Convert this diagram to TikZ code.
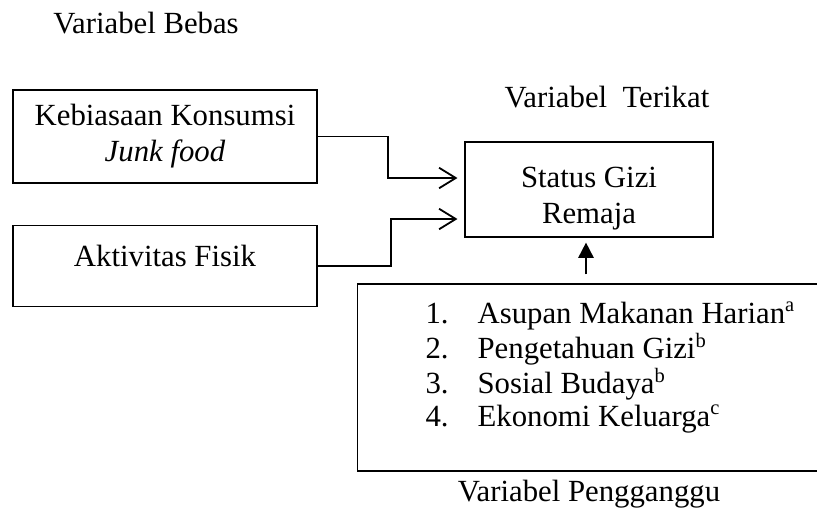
\documentclass[tikz,border=0pt]{standalone}
\usepackage{fontspec}
\setmainfont{Liberation Serif}
\usetikzlibrary{positioning,calc,arrows.meta}
\newcommand\pxu{0.39pt}
\tikzset{
  kotak/.style={draw, line width=0.5pt, inner sep=0pt, align=center},
  judul/.style={inner sep=0pt},
  panah/.style={line width=0.7pt, -{Straight Barb[length=6.5pt,width=8pt]}, shorten >=2.7pt},
}
\begin{document}
\begin{tikzpicture}[x=\pxu, y=-\pxu, font=\fontsize{12}{14}\selectfont]
	\useasboundingbox (0,0) rectangle (817,510);
	\clip (0,0) rectangle (817,510);
	\node[judul, anchor=base] (bebas) at (146,33) {Variabel Bebas};
	\node[kotak, minimum width=118.6pt, minimum height=36.3pt] (kebiasaan) at (165,136.5) {Kebiasaan Konsumsi\\\textit{Junk food}};
	\node[kotak, minimum width=118.6pt, minimum height=31.6pt, below=16pt of kebiasaan] (aktivitas) {Aktivitas Fisik\rule[-7.5pt]{0pt}{7.5pt}};
	\node[kotak, minimum width=96.7pt, minimum height=37pt] (status) at (589,189.5) {\rule{0pt}{14.7pt}Status Gizi\\Remaja};
	\node[judul, above=13pt of status, xshift=7pt] (terikat) {Variabel\ \ Terikat};
	\node[kotak, anchor=west, inner xsep=26.5pt, inner ysep=0pt, text height=15.3pt, text depth=57.7pt,
		font=\fontsize{12}{12.7}\selectfont] (pengganggu) at (357,377.5)
		{\begin{tabular}[t]{@{}p{20.3pt}@{}l@{}}
		 1.&Asupan Makanan Harian\textsuperscript{a}\\
		 2.&Pengetahuan Gizi\textsuperscript{b}\\
		 3.&Sosial Budaya\textsuperscript{b}\\
		 4.&Ekonomi Keluarga\textsuperscript{c}
		 \end{tabular}};
	\node[judul, anchor=north] (labelganggu) at ($(pengganggu.south -| status.south)+(0,8)$) {Variabel Pengganggu};
	\draw[panah] (kebiasaan.east) -- ++(70,0) |- ($(status.west)+(0,-11.5)$);
	\draw[panah] (aktivitas.east) -- ++(73,0) |- ($(status.west)+(0,29.5)$);
	\draw[line width=0.7pt, -{Triangle[length=6pt,width=6pt]}] ($(pengganggu.north -| status.south)+(-3,-9)$) -- ($(status.south)+(-3,5)$);
	%\draw[help lines] (0,0) grid (817,510);
\end{tikzpicture}
\end{document}
